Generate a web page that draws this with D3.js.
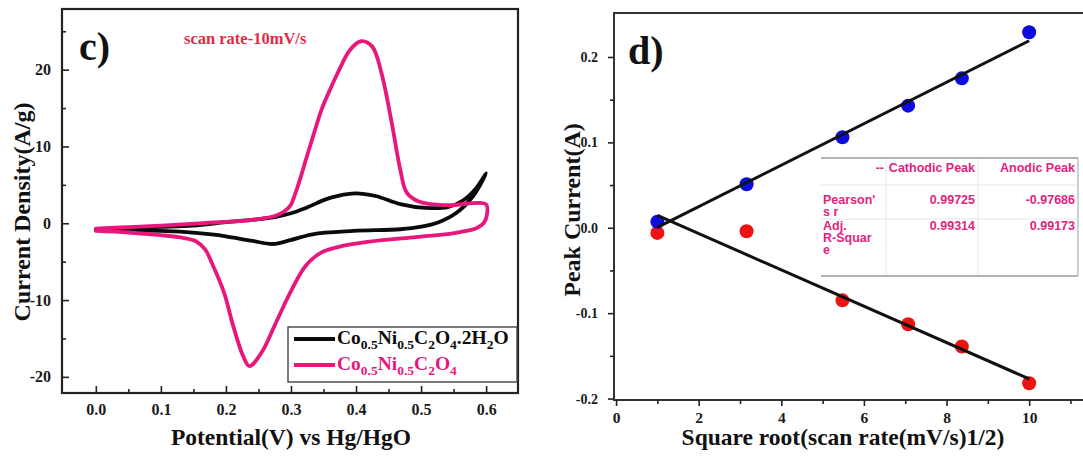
<!DOCTYPE html>
<html>
<head>
<meta charset="utf-8">
<script src="https://cdn.jsdelivr.net/npm/d3@7"></script>
<style>
  html, body { margin: 0; padding: 0; background: #ffffff; }
  svg { display: block; }
</style>
</head>
<body>
<svg id="chart" width="1083" height="457"></svg>
<script>
// ---- Panel c: cyclic voltammograms at 10 mV/s ----
const hydrateAnodicV  = [0.0, 0.05, 0.10, 0.15, 0.20, 0.24, 0.275, 0.30, 0.323, 0.36, 0.398, 0.43, 0.468, 0.507, 0.541, 0.565, 0.585, 0.60];
const hydrateAnodicI  = [-0.77, -0.62, -0.48, -0.3, 0.15, 0.45, 0.8, 1.3, 2.0, 3.3, 3.9, 3.55, 2.5, 2.0, 2.1, 3.0, 4.6, 6.5];
const hydrateCathodicV = [0.60, 0.58, 0.555, 0.526, 0.50, 0.468, 0.396, 0.333, 0.299, 0.272, 0.241, 0.20, 0.178, 0.129, 0.08, 0.0];
const hydrateCathodicI = [6.5, 3.55, 1.4, 0.1, -0.45, -0.78, -1.0, -1.43, -2.2, -2.7, -2.3, -1.7, -1.45, -1.1, -0.95, -0.85];

const anhydAnodicV = [0.0, 0.05, 0.10, 0.14, 0.18, 0.226, 0.255, 0.275, 0.289, 0.299, 0.308, 0.316, 0.323, 0.335, 0.347, 0.36, 0.372, 0.391, 0.408, 0.425, 0.439, 0.454, 0.468, 0.478, 0.4975, 0.541, 0.60];
const anhydAnodicI = [-0.7, -0.5, -0.3, -0.1, 0.1, 0.3, 0.6, 0.95, 1.5, 2.3, 4.2, 6.3, 8.3, 11.6, 14.8, 17.4, 19.6, 22.6, 23.7, 23.0, 19.6, 13.5, 7.0, 4.0, 2.8, 2.35, 2.45];
const anhydCathodicV = [0.60, 0.601, 0.596, 0.585, 0.56, 0.541, 0.492, 0.42, 0.372, 0.347, 0.323, 0.299, 0.275, 0.255, 0.236, 0.226, 0.211, 0.197, 0.178, 0.168, 0.153, 0.13, 0.10, 0.05, 0.0];
const anhydCathodicI = [2.45, 1.0, 0.0, -0.65, -1.15, -1.4, -1.8, -2.4, -3.1, -3.8, -5.5, -9.0, -13.3, -16.8, -18.6, -17.2, -13.3, -9.0, -5.1, -3.4, -2.3, -1.85, -1.55, -1.2, -1.0];

const cvXTicks = [0.0, 0.1, 0.2, 0.3, 0.4, 0.5, 0.6];
const cvYTicks = [-20, -10, 0, 10, 20];

// ---- Panel d: peak current vs square root of scan rate ----
const sqrtScanRate   = [1, 3.16, 5.48, 7.07, 8.37, 10];
const cathodicPeak   = [0.007, 0.051, 0.106, 0.143, 0.175, 0.229];
const anodicPeak     = [-0.006, -0.004, -0.085, -0.113, -0.139, -0.182];
const fitX           = [1, 10];
const cathodicFit    = [0.0005, 0.219];
const anodicFit      = [0.0145, -0.177];
const peakXTicks = [0, 2, 4, 6, 8, 10];
const peakYTicks = [-0.2, -0.1, 0.0, 0.1, 0.2];

const tableHeader = ["--", "Cathodic Peak", "Anodic Peak"];
const tableRowNames = [["Pearson'", "s r"], ["Adj.", "R-Squar", "e"]];
const tableCathodic = ["0.99725", "0.99314"];
const tableAnodic = ["-0.97686", "0.99173"];

const SERIF = "'Liberation Serif', 'Times New Roman', serif";
const SANS = "'Liberation Sans', Arial, sans-serif";
const BLACK = "#0b0b0b";
const PINK = "#e8177b";

// hyphen-minus labels
const fmt = digits => d => (d < 0 ? "-" : "") + Math.abs(d).toFixed(digits);

const svg = d3.select("#chart");

function styleAxis(g, size) {
  g.select(".domain").remove();
  g.selectAll(".tick line").attr("stroke", "#222").attr("stroke-width", 1.6);
  g.selectAll(".tick text")
    .style("font-family", SERIF).style("font-weight", "bold")
    .style("font-size", size + "px").attr("fill", "#1a1a1a");
}

// ================= Panel c =================
const cx = d3.scaleLinear().domain([-0.052, 0.649]).range([62, 518]);
const cy = d3.scaleLinear().domain([-22.1, 27.9]).range([393, 9]);

const cG = svg.append("g");

cG.append("rect")
  .attr("x", cx.range()[0]).attr("y", cy.range()[1])
  .attr("width", cx.range()[1] - cx.range()[0])
  .attr("height", cy.range()[0] - cy.range()[1])
  .attr("fill", "none").attr("stroke", "#222").attr("stroke-width", 2.2);

// major ticks (inward)
cG.append("g").attr("transform", `translate(0,${cy.range()[0]})`)
  .call(d3.axisBottom(cx).tickValues(cvXTicks).tickFormat(fmt(1))
        .tickSizeInner(-7).tickSizeOuter(0).tickPadding(11))
  .call(g => styleAxis(g, 16));
cG.append("g").attr("transform", `translate(${cx.range()[0]},0)`)
  .call(d3.axisLeft(cy).tickValues(cvYTicks).tickFormat(fmt(0))
        .tickSizeInner(-7).tickSizeOuter(0).tickPadding(11))
  .call(g => styleAxis(g, 16));
// minor ticks
cG.append("g").attr("transform", `translate(0,${cy.range()[0]})`)
  .call(d3.axisBottom(cx).tickValues([0.05, 0.15, 0.25, 0.35, 0.45, 0.55]).tickFormat("")
        .tickSizeInner(-4).tickSizeOuter(0))
  .call(g => styleAxis(g, 16));
cG.append("g").attr("transform", `translate(${cx.range()[0]},0)`)
  .call(d3.axisLeft(cy).tickValues([-15, -5, 5, 15, 25]).tickFormat("")
        .tickSizeInner(-4).tickSizeOuter(0))
  .call(g => styleAxis(g, 16));

const cvLine = d3.line()
  .x(d => cx(d[0])).y(d => cy(d[1]))
  .curve(d3.curveCatmullRom.alpha(0.5));

function loop(av, ai, cv, ci) {
  const pts = av.map((v, i) => [v, ai[i]]);
  return pts.concat(cv.slice(1).map((v, i) => [v, ci[i + 1]]));
}

cG.append("path")
  .datum(loop(hydrateAnodicV, hydrateAnodicI, hydrateCathodicV, hydrateCathodicI))
  .attr("d", cvLine).attr("fill", "none")
  .attr("stroke", BLACK).attr("stroke-width", 3.8)
  .attr("stroke-linejoin", "round").attr("stroke-linecap", "round");

cG.append("path")
  .datum(loop(anhydAnodicV, anhydAnodicI, anhydCathodicV, anhydCathodicI))
  .attr("d", cvLine).attr("fill", "none")
  .attr("stroke", PINK).attr("stroke-width", 3.8)
  .attr("stroke-linejoin", "round").attr("stroke-linecap", "round");

// panel label and scan rate note
cG.append("text").attr("x", 79).attr("y", 60)
  .attr("font-family", SERIF).attr("font-weight", "bold").attr("font-size", 40)
  .attr("fill", "#111").text("c)");
cG.append("text").attr("x", 184).attr("y", 44)
  .attr("font-family", SERIF).attr("font-weight", "bold").attr("font-size", 16.5)
  .attr("fill", "#e52a45").text("scan rate-10mV/s");

// axis titles
cG.append("text")
  .attr("x", 291).attr("y", 445)
  .attr("text-anchor", "middle")
  .attr("font-family", SERIF).attr("font-weight", "bold").attr("font-size", 23.5)
  .attr("fill", "#111").text("Potential(V) vs Hg/HgO");
cG.append("text")
  .attr("transform", `translate(30,212) rotate(-90)`)
  .attr("text-anchor", "middle")
  .attr("font-family", SERIF).attr("font-weight", "bold").attr("font-size", 24)
  .attr("fill", "#111").text("Current Density(A/g)");

// legend
const legend = cG.append("g");
legend.append("rect").attr("x", 288).attr("y", 327).attr("width", 229).attr("height", 55)
  .attr("fill", "#fff").attr("stroke", "#444").attr("stroke-width", 1.4);

function formula(g, x, y, parts, color) {
  const t = g.append("text").attr("x", x).attr("y", y)
    .attr("font-family", SERIF).attr("font-weight", "bold").attr("font-size", 19.5)
    .attr("fill", color);
  let shift = 0;
  parts.forEach(p => {
    const d = p[1] ? 5 - shift : -shift;
    shift = p[1] ? 5 : 0;
    t.append("tspan").attr("dy", d).attr("font-size", p[1] ? 13.5 : 19.5).text(p[0]);
  });
}
const legendEntries = [
  { color: BLACK, text: [["Co", 0], ["0.5", 1], ["Ni", 0], ["0.5", 1], ["C", 0], ["2", 1], ["O", 0], ["4", 1], [".2H", 0], ["2", 1], ["O", 0]] },
  { color: PINK, text: [["Co", 0], ["0.5", 1], ["Ni", 0], ["0.5", 1], ["C", 0], ["2", 1], ["O", 0], ["4", 1]] }
];
legendEntries.forEach((e, i) => {
  const ly = 339 + i * 26;
  legend.append("line").attr("x1", 294).attr("x2", 335).attr("y1", ly).attr("y2", ly)
    .attr("stroke", e.color).attr("stroke-width", 4);
  formula(legend, 337, ly + 5, e.text, e.color);
});

// ================= Panel d =================
const dx = d3.scaleLinear().domain([-0.05, 11.4]).range([614, 1087]);
const dy = d3.scaleLinear().domain([-0.2017, 0.2515]).range([400, 13]);

const dG = svg.append("g");

// frame (right side falls outside the view)
dG.append("rect")
  .attr("x", dx.range()[0]).attr("y", dy.range()[1])
  .attr("width", dx.range()[1] - dx.range()[0])
  .attr("height", dy.range()[0] - dy.range()[1])
  .attr("fill", "none").attr("stroke", "#333").attr("stroke-width", 2);

dG.append("g").attr("transform", `translate(0,${dy.range()[0]})`)
  .call(d3.axisBottom(dx).tickValues(peakXTicks).tickFormat(fmt(0))
        .tickSizeInner(6).tickSizeOuter(0).tickPadding(6))
  .call(g => styleAxis(g, 15.5));
dG.append("g").attr("transform", `translate(${dx.range()[0]},0)`)
  .call(d3.axisLeft(dy).tickValues(peakYTicks).tickFormat(fmt(1))
        .tickSizeInner(6).tickSizeOuter(0).tickPadding(10))
  .call(g => styleAxis(g, 14));
dG.append("g").attr("transform", `translate(0,${dy.range()[0]})`)
  .call(d3.axisBottom(dx).tickValues([1, 3, 5, 7, 9, 11]).tickFormat("")
        .tickSizeInner(4).tickSizeOuter(0))
  .call(g => styleAxis(g, 15.5));
dG.append("g").attr("transform", `translate(${dx.range()[0]},0)`)
  .call(d3.axisLeft(dy).tickValues([-0.15, -0.05, 0.05, 0.15]).tickFormat("")
        .tickSizeInner(4).tickSizeOuter(0))
  .call(g => styleAxis(g, 14));

// data points
dG.append("g").selectAll("circle.an")
  .data(sqrtScanRate.map((x, i) => [x, anodicPeak[i]]))
  .join("circle").attr("class", "an")
  .attr("cx", d => dx(d[0])).attr("cy", d => dy(d[1])).attr("r", 7)
  .attr("fill", "#ee1313");
dG.append("g").selectAll("circle.ca")
  .data(sqrtScanRate.map((x, i) => [x, cathodicPeak[i]]))
  .join("circle").attr("class", "ca")
  .attr("cx", d => dx(d[0])).attr("cy", d => dy(d[1])).attr("r", 7)
  .attr("fill", "#0c0cdc");

// linear fits
const fitLine = d3.line().x(d => dx(d[0])).y(d => dy(d[1]));
[cathodicFit, anodicFit].forEach(fit => {
  dG.append("path").datum(fitX.map((x, i) => [x, fit[i]]))
    .attr("d", fitLine).attr("fill", "none")
    .attr("stroke", "#111").attr("stroke-width", 3);
});

// panel label
dG.append("text").attr("x", 628).attr("y", 64)
  .attr("font-family", SERIF).attr("font-weight", "bold").attr("font-size", 40)
  .attr("fill", "#111").text("d)");

// axis titles
dG.append("text").attr("x", 843).attr("y", 445)
  .attr("text-anchor", "middle")
  .attr("font-family", SERIF).attr("font-weight", "bold").attr("font-size", 23.5)
  .attr("fill", "#111").text("Square root(scan rate(mV/s)1/2)");
dG.append("text")
  .attr("transform", `translate(580,210) rotate(-90)`)
  .attr("text-anchor", "middle")
  .attr("font-family", SERIF).attr("font-weight", "bold").attr("font-size", 24)
  .attr("fill", "#111").text("Peak Current(A)");

// statistics table
const tb = { x0: 821, x1: 1078, y0: 158, y1: 276, c1: 886, c2: 978 };
const TPINK = "#e1237f";
const tG = dG.append("g");
tG.append("rect").attr("x", tb.x0).attr("y", tb.y0)
  .attr("width", tb.x1 - tb.x0).attr("height", tb.y1 - tb.y0)
  .attr("fill", "#fff").attr("stroke", "none");
[[tb.c1, tb.y0, tb.c1, tb.y1], [tb.c2, tb.y0, tb.c2, tb.y1],
 [tb.x0, 185, tb.x1, 185], [tb.x0, 219, tb.x1, 219]].forEach(l => {
  tG.append("line").attr("x1", l[0]).attr("y1", l[1]).attr("x2", l[2]).attr("y2", l[3])
    .attr("stroke", "#e6e6e6").attr("stroke-width", 1);
});
tG.append("line").attr("x1", tb.x0).attr("x2", tb.x1).attr("y1", tb.y0).attr("y2", tb.y0)
  .attr("stroke", "#9a9a9a").attr("stroke-width", 1.6);
tG.append("line").attr("x1", tb.x0).attr("x2", tb.x1).attr("y1", tb.y1).attr("y2", tb.y1)
  .attr("stroke", "#9a9a9a").attr("stroke-width", 1.6);
tG.append("line").attr("x1", tb.x1).attr("x2", tb.x1).attr("y1", tb.y0).attr("y2", tb.y1)
  .attr("stroke", "#b0b0b0").attr("stroke-width", 1.2);

function tText(x, y, s, anchor) {
  tG.append("text").attr("x", x).attr("y", y).attr("text-anchor", anchor || "start")
    .attr("font-family", SANS).attr("font-weight", "bold").attr("font-size", 12.5)
    .attr("fill", TPINK).text(s);
}
tText(tb.c1 - 2, 172, tableHeader[0], "end");
tText(tb.c2 - 3, 172, tableHeader[1], "end");
tText(tb.x1 - 3, 172, tableHeader[2], "end");
const rowY = [204, 230];
tableRowNames.forEach((lines, r) => {
  lines.forEach((s, k) => tText(tb.x0 + 2, rowY[r] + k * 12, s));
  tText(tb.c2 - 3, rowY[r], tableCathodic[r], "end");
  tText(tb.x1 - 3, rowY[r], tableAnodic[r], "end");
});
</script>
</body>
</html>
